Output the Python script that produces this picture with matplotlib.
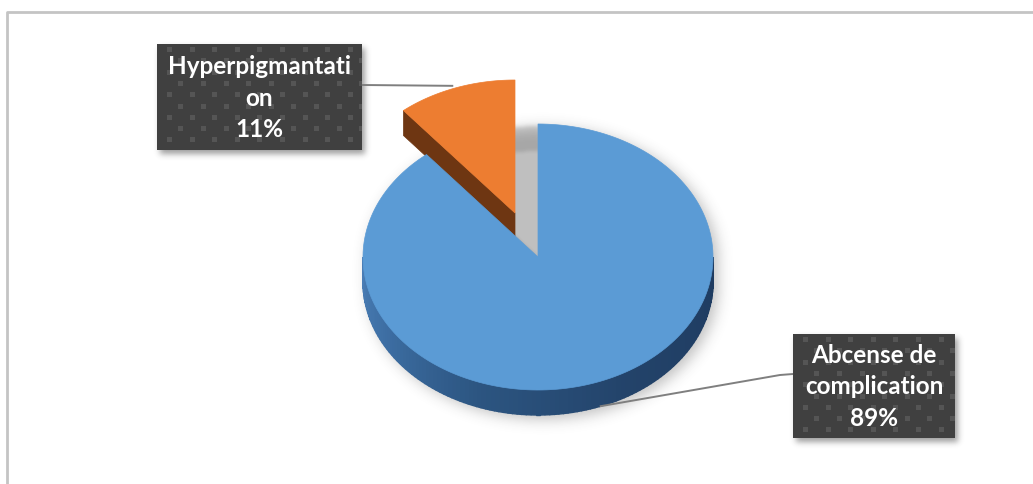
import numpy as np
import matplotlib.pyplot as plt
from matplotlib.path import Path
from matplotlib.patches import Polygon, Rectangle
from matplotlib.colors import to_rgb

# data
labels = ['Abcense de\ncomplication', 'Hyperpigmantati\non']
values = [89, 11]
colors = ['#5b9bd5', '#ed7d31']
side_colors = ['#2a5080', '#6e3612']

W, H = 1033, 484
fig = plt.figure(figsize=(W / 100, H / 100), dpi=100)
ax = fig.add_axes([0, 0, 1, 1])
ax.set_xlim(0, W)
ax.set_ylim(H, 0)
ax.axis('off')

# pie geometry (pixels), angles clockwise from 12 o'clock
cx, cy = 538, 257
rx, ry = 175, 133
depth = 25
explode = [(0, 0), (-23, -44)]

fracs = np.array(values) / sum(values) * 360
starts = np.concatenate([[0], np.cumsum(fracs)[:-1]])
ends = starts + fracs


def rim(theta, ox=0, oy=0, dz=0):
    t = np.radians(theta)
    return np.column_stack([cx + ox + rx * np.sin(t), cy + oy - ry * np.cos(t) + dz])


def top_poly(s, e, ox=0, oy=0):
    arc = rim(np.linspace(s, e, 200), ox, oy)
    return np.vstack([[cx + ox, cy + oy], arc])


# ---- soft shadows (rendered as an image under everything) ----
yy, xx = np.mgrid[0:H, 0:W]
grid = np.column_stack([xx.ravel() + 0.5, yy.ravel() + 0.5])


def mask(poly):
    return Path(poly).contains_points(grid).reshape(H, W).astype(float)


def blur(a, s):
    r = int(3 * s)
    k = np.exp(-0.5 * (np.arange(-r, r + 1) / s) ** 2)
    k /= k.sum()
    a = np.apply_along_axis(lambda m: np.convolve(m, k, 'same'), 0, a)
    a = np.apply_along_axis(lambda m: np.convolve(m, k, 'same'), 1, a)
    return a


full = np.vstack([rim(np.linspace(-90, 90, 200)), rim(np.linspace(90, 270, 200), dz=depth)])
shadow = blur(mask(full + [5, 4]), 7) * 0.33
orange_ghost = np.vstack([top_poly(starts[1], ends[1]),
                          top_poly(starts[1], ends[1])[::-1] + [0, depth]])
shadow = 1 - (1 - shadow) * (1 - blur(mask(orange_ghost + [2, 2]), 2) * 0.2)

boxes = [(157, 44, 205, 106), (793, 334, 162, 104)]
for bx, by, bw, bh in boxes:
    r = np.array([[bx, by], [bx + bw, by], [bx + bw, by + bh], [bx, by + bh]], float)
    shadow = 1 - (1 - shadow) * (1 - blur(mask(r + [3, 4]), 3) * 0.5)

rgba = np.zeros((H, W, 4))
rgba[..., :3] = 0.25
rgba[..., 3] = shadow
ax.imshow(rgba, extent=[0, W, H, 0], zorder=1, interpolation='bilinear')

# chart frame
ax.plot([7, 7, W], [H, 12, 12], color='#c4c4c4', lw=2, zorder=2, solid_capstyle='butt')


def shade(theta):
    # outer side gets darker from left to right
    stops = [90, 150, 200, 240, 270]
    cols = np.array([to_rgb(c) for c in ['#1e3b60', '#23436a', '#2c5581', '#3d6ea3', '#4a7db5']])
    return [np.interp(theta, stops, cols[:, i]) for i in range(3)]


order = [1, 0]  # exploded back slice first
for i in order:
    s, e = starts[i], ends[i]
    ox, oy = explode[i]
    # outer curved side, only the front half is visible
    lo, hi = max(s, 90), min(e, 270)
    if lo < hi:
        th = np.linspace(lo, hi, 120)
        for a0, a1 in zip(th[:-1], th[1:]):
            up = rim(np.array([a0, a1]), ox, oy)
            dn = rim(np.array([a1, a0]), ox, oy, depth)
            c = shade((a0 + a1) / 2)
            ax.add_patch(Polygon(np.vstack([up, dn]), closed=True, fc=c, ec=c,
                                 lw=1.0, zorder=3))
    # flat cut faces
    for edge, sign in [(s, -1), (e, 1)]:
        normal = np.radians(edge + sign * 90)
        if -np.cos(normal) > 1e-3:
            p = rim(np.array([edge]), ox, oy)[0]
            c0 = np.array([cx + ox, cy + oy])
            face = np.array([c0, p, p + [0, depth], c0 + [0, depth]])
            ax.add_patch(Polygon(face, closed=True, fc=side_colors[i], ec=side_colors[i],
                                 lw=0.5, zorder=3))
    ax.add_patch(Polygon(top_poly(s, e, ox, oy), closed=True, fc=colors[i], ec=colors[i],
                         lw=0.5, zorder=4))

# leader lines
end_blue = rim(np.array([159.0]), *explode[0], dz=depth)[0]
end_orange = rim(np.array([339.0]), *explode[1])[0]
ax.plot([end_blue[0], 780, 793], [end_blue[1], 375, 374], color='#7f7f7f', lw=1.4, zorder=5)
ax.plot([363, end_orange[0]], [85, end_orange[1] - 3], color='#7f7f7f', lw=1.4, zorder=5)

# data label boxes with dotted fill
texts = [f'{lab}\n{v}%' for lab, v in zip(labels, values)]
for (bx, by, bw, bh), txt in zip(boxes[::-1], texts):
    ax.add_patch(Rectangle((bx, by), bw, bh, fc='#404040', ec='none', zorder=6))
    sq = 5
    for row, yv in enumerate(np.arange(by + 3, by + bh - 2, 11.3)):
        off = 0 if row % 2 == 0 else 11.3
        for xv in np.arange(bx + 10 + off, bx + bw - 2, 22.6):
            w = min(sq, bx + bw - xv)
            h = min(sq, by + bh - yv)
            ax.add_patch(Rectangle((xv, yv), w, h, fc='#555555', ec='none', zorder=6.5))
    ax.text(bx + bw / 2, by + bh / 2 + 1, txt, ha='center', va='center', color='white',
            fontsize=17.5, fontweight='bold', family=['Lato', 'DejaVu Sans'],
            linespacing=1.45, zorder=7)

fig.savefig('out.png', dpi=100)
